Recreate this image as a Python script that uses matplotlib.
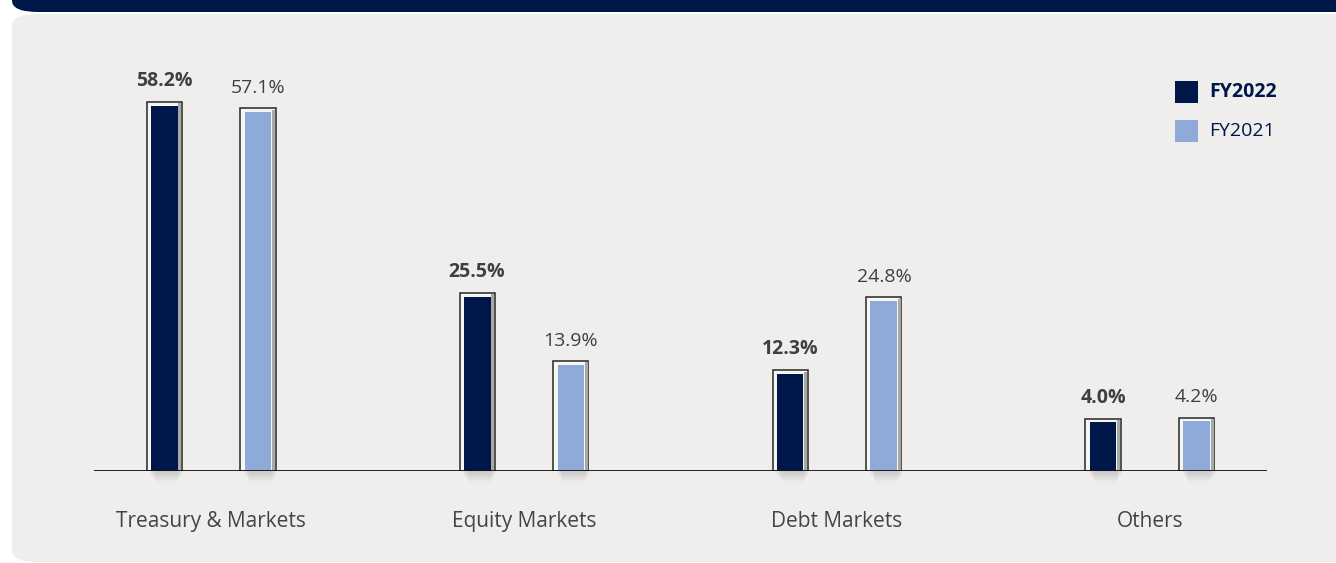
import matplotlib.pyplot as plt
from matplotlib.patches import Rectangle, FancyBboxPatch
import numpy as np

# --- DATA ---
categorias = ['Treasury & Markets', 'Equity Markets', 'Debt Markets', 'Others']
fy2022 = [58.2, 25.5, 12.3, 4.0]
fy2021 = [57.1, 13.9, 24.8, 4.2]
series = ['FY2022', 'FY2021']

NAVY = '#00174a'
LIGHT = '#8daad9'
BG = '#efeeec'
TXT = '#3f3f3f'

plt.rcParams['font.family'] = ['Open Sans', 'DejaVu Sans']

W, H = 1336, 563
fig = plt.figure(figsize=(W / 100, H / 100), dpi=100)
fig.patch.set_facecolor('white')

def fx(px):
    return px / W

def fy(py):
    return 1 - py / H

# painel cinza + faixa do titulo
fig.add_artist(FancyBboxPatch((fx(12), fy(562)), fx(1400) - fx(12), fy(14) - fy(562),
                              boxstyle='round,pad=0,rounding_size=0.02',
                              transform=fig.transFigure, fc=BG, ec='none', zorder=0))
fig.add_artist(FancyBboxPatch((fx(12), fy(12)), fx(1400) - fx(12), fy(-30) - fy(12),
                              boxstyle='round,pad=0,rounding_size=0.02',
                              transform=fig.transFigure, fc=NAVY, ec='none', zorder=1))

y0 = -4.3   # base do eixo (grafico original nao parte do zero)
ax = fig.add_axes([fx(94), fy(471), fx(1267) - fx(94), (471 - 60) / H])
ax.set_facecolor('none')
ax.set_xlim(-0.374, 3.374)
ax.set_ylim(y0, 66.0)
for s in ax.spines.values():
    s.set_visible(False)
ax.set_yticks([])

x = np.arange(len(categorias))
off = 0.15
w_out, w_in = 0.112, 0.086
pad = 0.65

def desenha(xc, v, cor, bold):
    # sombra abaixo da linha de base
    for k, a in enumerate([0.06, 0.06, 0.05, 0.04, 0.03]):
        ww = w_out * (0.95 - k * 0.08)
        ax.add_patch(Rectangle((xc - ww / 2 + 0.008, y0 - 0.4 * (k + 1)), ww, 0.4 * (k + 1),
                               fc='#555555', ec='none', alpha=a, zorder=1, clip_on=False))
    # moldura
    ax.bar(xc, v + pad - y0, bottom=y0, width=w_out, color='#f6f6f4',
           edgecolor='#262626', linewidth=1.1, zorder=2)
    # faixa cinza lateral (relevo)
    ax.bar(xc + w_in / 2 + (w_out - w_in) / 4, v + pad * 0.6 - y0, bottom=y0,
           width=(w_out - w_in) / 2 * 0.8, color='#a8a8a8', linewidth=0, zorder=2.5)
    ax.bar(xc, v - y0, bottom=y0, width=w_in, color=cor, linewidth=0, zorder=3)
    ax.annotate(f'{v:.1f}%', (xc, v + pad), xytext=(0, 8), textcoords='offset points',
                ha='center', va='bottom', fontsize=14, color=TXT,
                fontweight='bold' if bold else 'normal')

for i in range(len(categorias)):
    desenha(x[i] - off, fy2022[i], NAVY, True)
    desenha(x[i] + off, fy2021[i], LIGHT, False)

ax.axhline(y0, color='#111111', linewidth=1.3, zorder=4)

ax.set_xticks(x)
ax.set_xticklabels(categorias, fontsize=15, color='#444444')
ax.tick_params(axis='x', length=0, pad=29)

# legenda
for j, (nome, cor) in enumerate(zip(series, [NAVY, LIGHT])):
    cy = 92 + j * 39
    fig.add_artist(Rectangle((fx(1175), fy(cy + 11)), fx(23), 22 / H,
                             transform=fig.transFigure, fc=cor, ec='none'))
    fig.text(fx(1209), fy(cy), nome, fontsize=14, color=NAVY, va='center', ha='left',
             fontweight='bold' if j == 0 else 'normal')

plt.savefig('out.png', dpi=100, facecolor=fig.get_facecolor())
